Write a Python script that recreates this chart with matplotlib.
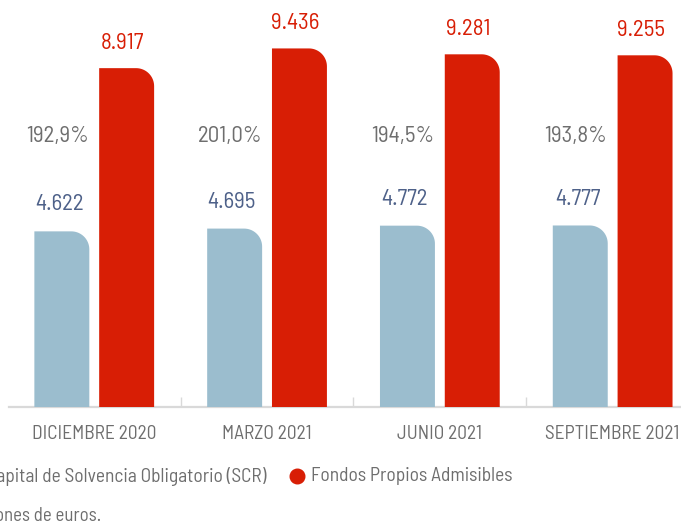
import numpy as np
import matplotlib.pyplot as plt
from matplotlib.path import Path
from matplotlib.patches import PathPatch
from matplotlib.lines import Line2D

plt.rcParams['font.family'] = ['Barlow Semi Condensed', 'Liberation Sans', 'DejaVu Sans']

# data
periodos = ["DICIEMBRE 2020", "MARZO 2021", "JUNIO 2021", "SEPTIEMBRE 2021"]
scr = [4622, 4695, 4772, 4777]
fondos = [8917, 9436, 9281, 9255]
ratio = ["192,9%", "201,0%", "194,5%", "193,8%"]
etiquetas_scr = ["4.622", "4.695", "4.772", "4.777"]
etiquetas_fondos = ["8.917", "9.436", "9.281", "9.255"]

rojo = "#D81E05"
azul = "#9BBDCE"
azul_txt = "#4E6189"
gris = "#6E6E6E"

W_PX, H_PX = 681, 522
fig = plt.figure(figsize=(W_PX / 100, H_PX / 100), dpi=100)
ax_box = [9 / W_PX, 115 / H_PX, 672 / W_PX, 380 / H_PX]
ax = fig.add_axes(ax_box)
xlim = (-0.4933, 3.3955)
ylim = (0, 10000)
ax.set_xlim(xlim)
ax.set_ylim(ylim)

# pixels per data unit, used to keep the corner round
px_x = 672 / (xlim[1] - xlim[0])
px_y = 380 / (ylim[1] - ylim[0])


def rounded_bar(x0, w, h, color, r_px=18):
    """bar with only the top-right corner rounded"""
    rx = r_px / px_x
    ry = r_px / px_y
    t = np.linspace(0, np.pi / 2, 20)
    arc_x = x0 + w - rx + rx * np.sin(t)
    arc_y = h - ry + ry * np.cos(t)
    verts = [(x0, 0), (x0, h)] + list(zip(arc_x, arc_y)) + [(x0 + w, 0), (x0, 0)]
    codes = [Path.MOVETO] + [Path.LINETO] * (len(verts) - 2) + [Path.CLOSEPOLY]
    ax.add_patch(PathPatch(Path(verts, codes), facecolor=color, edgecolor='none', zorder=3))


x = np.arange(len(periodos))
off = 0.1875
width = 0.318

for i in range(len(periodos)):
    rounded_bar(x[i] - off - width / 2, width, scr[i], azul)
    rounded_bar(x[i] + off - width / 2, width, fondos[i], rojo)
    ax.annotate(etiquetas_scr[i], xy=(x[i] - off, scr[i]), xytext=(-2, 19),
                textcoords="offset points", ha='center', va='center',
                fontsize=16.5, color=azul_txt)
    ax.annotate(etiquetas_fondos[i], xy=(x[i] + off, fondos[i]), xytext=(-3, 18),
                textcoords="offset points", ha='center', va='center',
                fontsize=16.5, color=rojo)
    ax.text(x[i] - off - 0.025, 0.712, ratio[i], transform=ax.get_xaxis_transform(),
            ha='center', va='center', fontsize=16.5, color=gris)

for s in ['top', 'right', 'left']:
    ax.spines[s].set_visible(False)
ax.spines['bottom'].set_color('#D9D9D9')
ax.spines['bottom'].set_linewidth(1.6)
ax.set_yticks([])

ax.set_xticks(x[:-1] + 0.5)
ax.set_xticklabels([])
ax.tick_params(axis='x', which='major', direction='in', length=7, width=1, color='#D9D9D9')
ax.set_xticks(x, minor=True)
ax.set_xticklabels(periodos, minor=True, fontsize=14, color=gris)
ax.tick_params(axis='x', which='minor', length=0, pad=13)

# legend, drawn by hand so it can run off the left edge like the original
ly = (H_PX - 476) / H_PX
fig.add_artist(Line2D([-0.06], [ly], marker='o', markersize=10, color=azul_txt,
                      transform=fig.transFigure, linestyle='none'))
fig.text(267 / W_PX, ly, "Capital de Solvencia Obligatorio (SCR)", ha='right', va='center',
         fontsize=14, color=gris)
fig.add_artist(Line2D([297 / W_PX], [ly], marker='o', markersize=10.5, color=rojo,
                      transform=fig.transFigure, linestyle='none'))
fig.text(311 / W_PX, ly, "Fondos Propios Admisibles", ha='left', va='center',
         fontsize=14, color=gris)
fig.text(101 / W_PX, (H_PX - 516) / H_PX, "Datos en millones de euros.", ha='right', va='center',
         fontsize=13.5, color=gris)

fig.savefig("out.png", dpi=100)
